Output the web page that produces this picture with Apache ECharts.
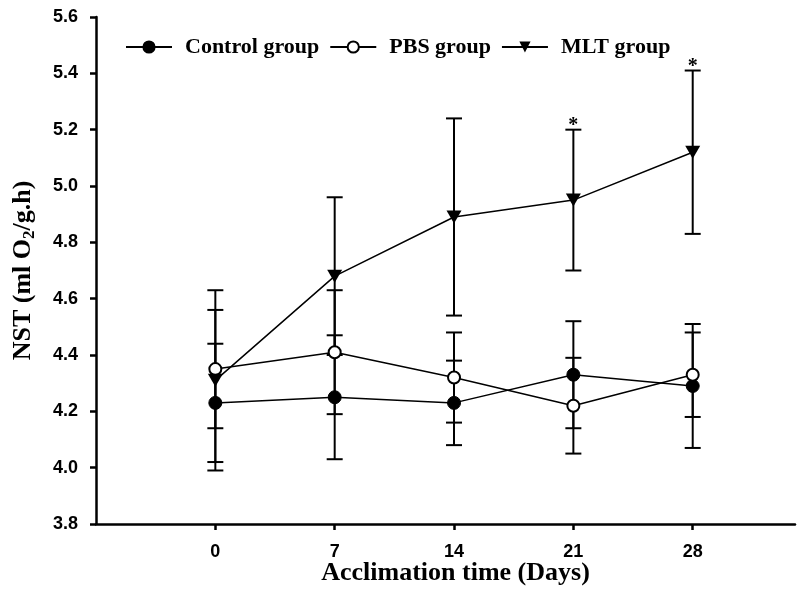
<!DOCTYPE html>
<html>
<head>
<meta charset="utf-8">
<script src="https://cdn.jsdelivr.net/npm/echarts@6/dist/echarts.min.js"></script>
<style>
  html, body { margin: 0; padding: 0; background: #fff; }
  #chart { width: 797px; height: 589px; }
</style>
</head>
<body>
<div id="chart"></div>
<script>
// acclimation days
const days = [0, 7, 14, 21, 28]
const xTicks = [0, 7, 14, 21, 28]

// means and SE
const controlMean = [4.23, 4.25, 4.23, 4.33, 4.29]
const controlErr = [0.21, 0.22, 0.15, 0.19, 0.22]
const pbsMean = [4.35, 4.41, 4.32, 4.22, 4.33]
const pbsErr = [0.21, 0.22, 0.16, 0.17, 0.15]
const mltMean = [4.31, 4.68, 4.89, 4.95, 5.12]
const mltErr = [0.32, 0.28, 0.35, 0.25, 0.29]
// significance marks on MLT group
const mltStar = [false, false, false, true, true]

const serif = '"Liberation Serif", "Times New Roman", serif'
const sans = '"Liberation Sans", Arial, sans-serif'

const triDown = 'path://M0,0L10,0L5,8.5Z'

function pts(mean) {
  return days.map((d, i) => [d, mean[i]])
}

function errData(mean, err) {
  return days.map((d, i) => [d, mean[i] - err[i], mean[i] + err[i]])
}

function errSeries(mean, err) {
  return {
    type: 'custom',
    silent: true,
    z: 1,
    data: errData(mean, err),
    renderItem: (params, api) => {
      const x = api.value(0)
      const lo = api.coord([x, api.value(1)])
      const hi = api.coord([x, api.value(2)])
      const w = 8
      const st = { stroke: '#000', lineWidth: 2 }
      return {
        type: 'group',
        children: [
          { type: 'line', shape: { x1: hi[0], y1: hi[1], x2: lo[0], y2: lo[1] }, style: st },
          { type: 'line', shape: { x1: hi[0] - w, y1: hi[1], x2: hi[0] + w, y2: hi[1] }, style: st },
          { type: 'line', shape: { x1: lo[0] - w, y1: lo[1], x2: lo[0] + w, y2: lo[1] }, style: st },
        ],
      }
    },
  }
}

const chart = echarts.init(document.getElementById('chart'))

chart.setOption({
  animation: false,
  backgroundColor: '#fff',
  grid: { left: 96, right: 2, top: 17, bottom: 65, outerBoundsMode: 'none', containLabel: false },
  legend: {
    left: 120,
    top: 31,
    itemWidth: 46,
    itemHeight: 14,
    itemGap: 10,
    textStyle: { fontFamily: serif, fontWeight: 'bold', fontSize: 22, color: '#000', padding: [0, 0, 0, 8] },
    data: ['Control group', 'PBS group', 'MLT group'],
  },
  xAxis: {
    type: 'value',
    min: -7,
    max: 34,
    name: 'Acclimation time (Days)',
    nameLocation: 'middle',
    nameMoveOverlap: false,
    nameGap: 36,
    nameTextStyle: { fontFamily: serif, fontWeight: 'bold', fontSize: 26, color: '#000', padding: [0, 0, 0, 20] },
    axisLine: { onZero: false, lineStyle: { color: '#000', width: 2.5 } },
    axisTick: { show: true, customValues: xTicks, length: 6, lineStyle: { color: '#000', width: 2.5 } },
    axisLabel: { customValues: xTicks, margin: 19, fontFamily: sans, fontWeight: 'bold', fontSize: 18, color: '#000' },
    splitLine: { show: false },
  },
  yAxis: {
    type: 'value',
    min: 3.8,
    max: 5.6,
    interval: 0.2,
    name: '{a|NST (ml O}{s|2}{a|/g.h)}',
    nameLocation: 'middle',
    nameMoveOverlap: false,
    nameGap: 58,
    nameTextStyle: {
      rich: {
        a: { fontFamily: serif, fontWeight: 'bold', fontSize: 26, color: '#000' },
        s: { fontFamily: serif, fontWeight: 'bold', fontSize: 17, color: '#000', verticalAlign: 'bottom', padding: [12, 0, 0, 0] },
      },
    },
    axisLine: { show: true, onZero: false, lineStyle: { color: '#000', width: 2.5 } },
    axisTick: { show: true, length: 6, lineStyle: { color: '#000', width: 2.5 } },
    axisLabel: {
      margin: 18,
      fontFamily: sans,
      fontWeight: 'bold',
      fontSize: 18,
      color: '#000',
      formatter: v => v.toFixed(1),
    },
    splitLine: { show: false },
  },
  series: [
    errSeries(controlMean, controlErr),
    errSeries(pbsMean, pbsErr),
    errSeries(mltMean, mltErr),
    {
      name: 'Control group',
      type: 'line',
      z: 3,
      data: pts(controlMean),
      symbol: 'circle',
      symbolSize: 13,
      lineStyle: { color: '#000', width: 1.5 },
      itemStyle: { color: '#000', borderColor: '#000', borderWidth: 1 },
    },
    {
      name: 'PBS group',
      type: 'line',
      z: 3,
      data: pts(pbsMean),
      symbol: 'circle',
      symbolSize: 12,
      lineStyle: { color: '#000', width: 1.5 },
      itemStyle: { color: '#fff', borderColor: '#000', borderWidth: 2 },
    },
    {
      name: 'MLT group',
      type: 'line',
      z: 3,
      data: pts(mltMean),
      symbol: triDown,
      symbolSize: [15, 13],
      lineStyle: { color: '#000', width: 1.5 },
      itemStyle: { color: '#000' },
    },
    {
      type: 'custom',
      silent: true,
      z: 4,
      data: days.map((d, i) => [d, mltMean[i] + mltErr[i], mltStar[i] ? 1 : 0]),
      renderItem: (params, api) => {
        if (!api.value(2)) return null
        const p = api.coord([api.value(0), api.value(1)])
        return {
          type: 'text',
          style: {
            x: p[0],
            y: p[1] - 4,
            text: '*',
            fill: '#000',
            font: 'bold 20px ' + serif,
            align: 'center',
            verticalAlign: 'middle',
          },
        }
      },
    },
  ],
})
</script>
</body>
</html>
